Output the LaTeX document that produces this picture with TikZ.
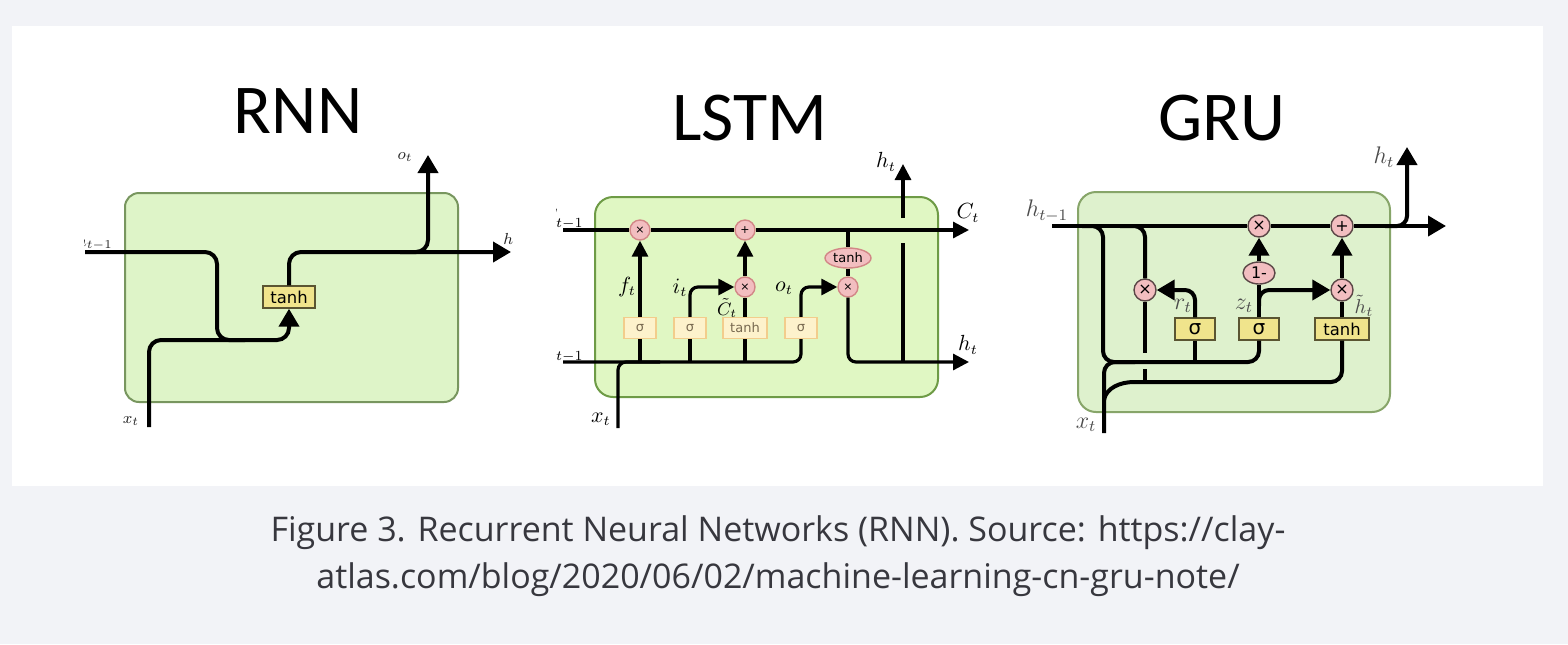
\documentclass[tikz,border=0pt]{standalone}
\usepackage{fontspec}
\usetikzlibrary{arrows.meta,shapes.geometric}
\newfontfamily\titlefont{Carlito}
\newfontfamily\capfont{Open Sans}
\newfontfamily\dv{DejaVu Sans}
\definecolor{bgc}{RGB}{242,243,247}
\definecolor{capc}{RGB}{55,55,62}
\definecolor{rfill}{RGB}{222,244,200}
\definecolor{rdraw}{RGB}{120,150,95}
\definecolor{lfill}{RGB}{224,247,195}
\definecolor{ldraw}{RGB}{110,155,70}
\definecolor{gfill}{RGB}{222,241,205}
\definecolor{gdraw}{RGB}{135,165,105}
\definecolor{kfill}{RGB}{240,228,140}
\definecolor{kdraw}{RGB}{90,85,50}
\definecolor{pfill}{RGB}{242,190,192}
\definecolor{pdraw}{RGB}{210,135,135}
\definecolor{gpdraw}{RGB}{90,70,70}
\definecolor{yfill}{RGB}{253,242,204}
\definecolor{ydraw}{RGB}{242,205,140}
\definecolor{ytext}{RGB}{120,105,80}
\definecolor{glabc}{RGB}{75,75,75}
\tikzset{
  ttlnode/.style={font=\titlefont\fontsize{35}{40}\selectfont, anchor=base, inner sep=0pt},
  captext/.style={font=\capfont\fontsize{17}{20}\selectfont, text=capc, inner sep=0pt},
  rcell/.style={draw=rdraw, fill=rfill, line width=1pt, rounded corners=7pt},
  lcell/.style={draw=ldraw, fill=lfill, line width=1pt, rounded corners=9pt},
  gcell/.style={draw=gdraw, fill=gfill, line width=1pt, rounded corners=9pt},
  rwire/.style={line width=2pt, black},
  lwire/.style={line width=1.6pt, black},
  gwire/.style={line width=2pt, black},
  rarr/.style={-{Triangle[length=9pt,width=10pt]}},
  larr/.style={-{Triangle[length=8pt,width=8pt]}},
  garr/.style={-{Triangle[length=9pt,width=10pt]}},
  kbox/.style={draw=kdraw, fill=kfill, line width=0.7pt, inner sep=0pt, minimum height=11pt, font=\dv\fontsize{8.2}{9}\selectfont},
  ybox/.style={draw=ydraw, fill=yfill, line width=0.7pt, inner sep=0pt, minimum width=16pt, minimum height=10.5pt, text=ytext, font=\dv\fontsize{6.5}{7}\selectfont},
  lcirc/.style={circle, draw=pdraw, fill=pfill, line width=0.7pt, inner sep=0pt, minimum size=10pt, font=\dv\fontsize{5.5}{6}\selectfont},
  lell/.style={ellipse, draw=pdraw, fill=pfill, line width=0.7pt, inner sep=0pt, minimum width=23pt, minimum height=10pt, font=\dv\fontsize{6.5}{7}\selectfont},
  gcirc/.style={circle, draw=gpdraw, fill=pfill, line width=0.7pt, inner sep=0pt, minimum size=11pt, font=\dv\fontsize{8}{9}\selectfont},
  gell/.style={ellipse, draw=gpdraw, fill=pfill, line width=0.7pt, inner sep=0pt, minimum width=16pt, minimum height=11pt, font=\dv\fontsize{8}{9}\selectfont},
  rlab/.style={inner sep=0pt, font=\fontsize{8.5}{9}\selectfont, text=black!85},
  llab/.style={inner sep=0pt, font=\fontsize{10.5}{11}\selectfont},
  glab/.style={inner sep=0pt, font=\fontsize{11.5}{12}\selectfont, text=glabc},
}
\begin{document}
\begin{tikzpicture}[x=0.5pt,y=-0.5pt]
\fill[bgc] (0,0) rectangle (1568,644);
\useasboundingbox (0,0) rectangle (1568,644);
\fill[white] (12,26) rectangle (1543,486);

% titles
\node[ttlnode] (tr) at (298,133) {RNN};
\node[ttlnode] (tl) at (750,140) {LSTM};
\node[ttlnode] (tg0) at (1222,140) {GRU};

% caption
\node[captext] (cap1) at (778,533) {Figure 3. Recurrent Neural Networks (RNN). Source: https://clay-};
\node[captext] (cap2) at (778,580) {atlas.com/blog/2020/06/02/machine-learning-cn-gru-note/};

% ---------------- RNN ----------------
\begin{scope}
\clip (84,140) rectangle (512,440);
\draw[rcell] (125,193) rectangle (458,402);
\node[kbox, minimum width=26pt] (rt) at (289,297) {tanh};
\coordinate (rhin) at (85,252);
\coordinate (rm) at (217,340);
\coordinate (rm2) at (245,340);
\coordinate (rxin) at (149,427);
\coordinate (rout) at (511,252);
\coordinate (rb) at (400,252);
\coordinate (rot) at (428,155);
\draw[rwire, rounded corners=6pt] (rhin) -| (rm) -- (rm2);
\draw[rwire, rarr, rounded corners=6pt] (rxin) |- (rt.south |- rm) -- (rt.south);
\draw[rwire, rarr, rounded corners=6pt] (rt.north) |- (rout);
\draw[rwire, rarr, rounded corners=6pt] (rb) -| (rot);
\node[rlab, anchor=east] (lrh) at (113,243) {$h_{t-1}$};
\node[rlab, anchor=west] (lrh2) at (503,240) {$h_t$};
\node[rlab] (lro) at (405,157) {$o_t$};
\node[rlab] (lrx) at (131,421) {$x_t$};
\end{scope}

% ---------------- LSTM ----------------
\begin{scope}
\clip (556,140) rectangle (990,440);
\draw[lcell] (595,197) rectangle (938,397);
\node[lcirc] (fx) at (640,230) {×};
\node[lcirc] (pl) at (745,230) {+};
\node[lcirc] (ix) at (745,287) {×};
\node[lcirc] (ox) at (848,287) {×};
\node[lell] (th) at (848,258) {tanh};
\node[ybox] (s1) at (640,328) {σ};
\node[ybox] (s2) at (690,328) {σ};
\node[ybox, minimum width=22pt] (tb) at (745,328) {tanh};
\node[ybox] (s3) at (801,328) {σ};
\coordinate (lCin) at (563,230);
\coordinate (lCout) at (969,230);
\coordinate (lhin) at (563,362);
\coordinate (lhout) at (969,362);
\coordinate (lxin) at (618,428);
\coordinate (lj) at (660,362);
\coordinate (lv1) at (903,362);
\coordinate (lv2) at (903,243);
\coordinate (lv3) at (903,218);
\coordinate (lhtop) at (903,164);
\draw[lwire] (lCin) -- (fx);
\draw[lwire] (fx) -- (pl);
\draw[lwire, larr] (pl) -- (lCout);
\draw[lwire, rounded corners=4pt] (lhin) -| (s3.south);
\draw[lwire, rounded corners=4pt] (lxin) |- (lj);
\draw[lwire] (s1.south |- lhin) -- (s1.south);
\draw[lwire, larr] (s1) -- (fx);
\draw[lwire] (s2.south |- lhin) -- (s2.south);
\draw[lwire, larr, rounded corners=4pt] (s2.north) |- (ix);
\draw[lwire] (tb.south |- lhin) -- (tb.south);
\draw[lwire] (tb) -- (ix);
\draw[lwire, larr] (ix) -- (pl);
\draw[lwire, larr, rounded corners=4pt] (s3.north) |- (ox);
\draw[lwire] (th.north |- lCin) -- (th);
\draw[lwire] (th) -- (ox);
\draw[lwire, larr, rounded corners=4pt] (ox) |- (lhout);
\draw[lwire] (lv1) -- (lv2);
\draw[lwire, larr] (lv3) -- (lhtop);
\node[llab, anchor=east] (llc) at (584,219) {$C_{t-1}$};
\node[llab, anchor=east] (llh) at (584,352) {$h_{t-1}$};
\node[llab] (llf) at (627,287) {$f_t$};
\node[llab] (lli) at (680,288) {$i_t$};
\node[llab] (llo) at (784,288) {$o_t$};
\node[llab, font=\fontsize{9}{10}\selectfont] (llct) at (727,308) {$\tilde{C}_t$};
\node[llab] (llht) at (886,162) {$h_t$};
\node[llab] (llcr) at (968,213) {$C_t$};
\node[llab] (llhr) at (968,345) {$h_t$};
\node[llab] (llx) at (601,419) {$x_t$};
\end{scope}

% ---------------- GRU ----------------
\draw[gcell] (1078,192) rectangle (1390,412);
\node[gcirc] (gx) at (1259,226) {×};
\node[gcirc] (gp) at (1342,226) {+};
\node[gell] (om) at (1259,273) {1-};
\node[gcirc] (rxc) at (1145,290) {×};
\node[gcirc] (hx) at (1342,290) {×};
\node[kbox, minimum width=20pt, font=\dv\fontsize{10}{11}\selectfont] (sr) at (1195,329) {σ};
\node[kbox, minimum width=20pt, font=\dv\fontsize{10}{11}\selectfont] (sz) at (1259,329) {σ};
\node[kbox, minimum width=27pt] (tgb) at (1342,329) {tanh};
\coordinate (ghin) at (1052,226);
\coordinate (ghout) at (1446,226);
\coordinate (ghtop) at (1407,147);
\coordinate (gbr) at (1385,226);
\coordinate (gxin) at (1104,433);
\coordinate (gb1) at (1082,226);
\coordinate (gj) at (1103,362);
\coordinate (gj2) at (1135,362);
\coordinate (gb2) at (1120,226);
\coordinate (gl1) at (1145,353);
\coordinate (gl2) at (1145,369);
\coordinate (gl3) at (1145,382);
\coordinate (gxc) at (1104,400);
\coordinate (gzb) at (1259,306);
\draw[gwire] (ghin) -- (gx);
\draw[gwire] (gx) -- (gp);
\draw[gwire, garr] (gp) -- (ghout);
\draw[gwire, garr, rounded corners=5pt] (gbr) -| (ghtop);
\draw[gwire, rounded corners=5.5pt] (gb1) -| (gj) -| (sz.south);
\draw[gwire, rounded corners=5.5pt] (gxin) |- (gj2);
\draw[gwire] (sr.south |- gj) -- (sr.south);
\draw[gwire, garr, rounded corners=5pt] (sr.north) |- (rxc);
\draw[gwire, rounded corners=5.5pt] (gb2) -| (rxc);
\draw[gwire] (rxc) -- (gl1);
\draw[gwire] (gl2) -- (gl3);
\draw[gwire, rounded corners=5.5pt] (gxc) .. controls (1106,388) and (1120,382) .. (gl3) -| (tgb.south);
\draw[gwire] (sz) -- (om);
\draw[gwire, garr] (om) -- (gx);
\draw[gwire, garr, rounded corners=5pt] (gzb) |- (hx);
\draw[gwire] (tgb) -- (hx);
\draw[gwire, garr] (hx) -- (gp);
\node[glab] (lgh) at (1047,211) {$h_{t-1}$};
\node[glab] (lght) at (1384,157) {$h_t$};
\node[glab] (lgr) at (1183,306) {$r_t$};
\node[glab] (lgz) at (1244,306) {$z_t$};
\node[glab, font=\fontsize{10}{11}\selectfont] (lgth) at (1364,306) {$\tilde{h}_t$};
\node[glab] (lgx) at (1086,425) {$x_t$};
\end{tikzpicture}
\end{document}
